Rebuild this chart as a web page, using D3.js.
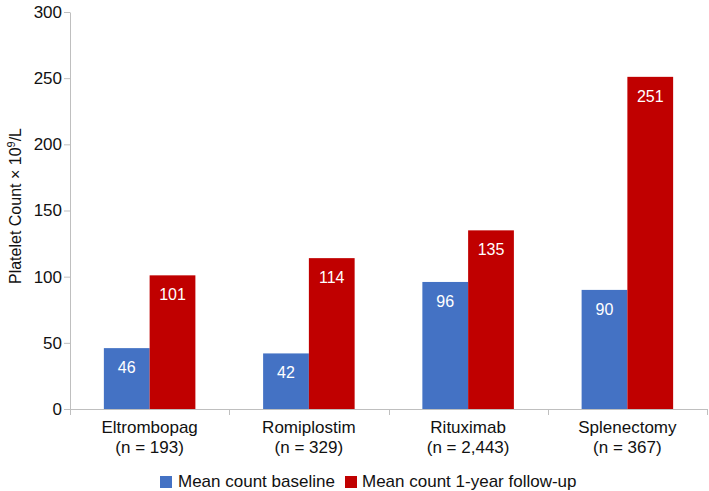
<!DOCTYPE html>
<html>
<head>
<meta charset="utf-8">
<script src="https://cdn.jsdelivr.net/npm/d3@7"></script>
<style>
  html, body { margin: 0; padding: 0; background: #fff; }
  svg { display: block; font-family: "Liberation Sans", Arial, Helvetica, sans-serif; }
</style>
</head>
<body>
<svg id="chart" width="709" height="491"></svg>
<script>
const categories = ["Eltrombopag", "Romiplostim", "Rituximab", "Splenectomy"];
const sampleSizes = ["(n = 193)", "(n = 329)", "(n = 2,443)", "(n = 367)"];
const seriesNames = ["Mean count baseline", "Mean count 1-year follow-up"];
const baseline = [46, 42, 96, 90];
const followUp = [101, 114, 135, 251];
const yTicks = [0, 50, 100, 150, 200, 250, 300];
const colors = ["#4472C4", "#C00000"];

const svg = d3.select("#chart");
const margin = { left: 70, right: 2, top: 12, bottom: 82 };
const W = 709, H = 491;
const plotBottom = H - margin.bottom; // 409

const x0 = d3.scaleBand().domain(categories).range([margin.left, W - margin.right]).paddingInner(0).paddingOuter(0);
const x1 = d3.scaleBand().domain([0, 1]).range([0, x0.bandwidth()]).paddingOuter(0.74).paddingInner(0);
const y = d3.scaleLinear().domain([0, 300]).range([plotBottom, margin.top]);

const axisColor = "#bfbfbf";

// Y axis
const yAxis = svg.append("g").attr("transform", `translate(${margin.left},0)`)
  .call(d3.axisLeft(y).tickValues(yTicks).tickSize(6).tickPadding(2).tickSizeOuter(0));
yAxis.select(".domain").attr("stroke", axisColor);
yAxis.selectAll(".tick line").attr("stroke", axisColor);
yAxis.selectAll(".tick text").attr("fill", "#111").style("font-size", "17px").attr("font-family", null);

// Bars
const data = categories.map((c, i) => ({ cat: c, vals: [baseline[i], followUp[i]] }));
const groups = svg.append("g").selectAll("g").data(data).join("g")
  .attr("transform", d => `translate(${x0(d.cat)},0)`);

groups.selectAll("rect").data(d => d.vals.map((v, k) => ({ v, k }))).join("rect")
  .attr("x", d => x1(d.k))
  .attr("y", d => y(d.v))
  .attr("width", x1.bandwidth())
  .attr("height", d => y(0) - y(d.v))
  .attr("fill", d => colors[d.k]);

groups.selectAll("text.val").data(d => d.vals.map((v, k) => ({ v, k }))).join("text")
  .attr("class", "val")
  .attr("x", d => x1(d.k) + x1.bandwidth() / 2)
  .attr("y", d => y(d.v) + 25)
  .attr("text-anchor", "middle")
  .attr("fill", "#fff")
  .style("font-size", "16px")
  .text(d => d.v);

// X axis
const xAxis = svg.append("g").attr("transform", `translate(0,${plotBottom})`);
xAxis.append("line").attr("x1", margin.left).attr("x2", W - margin.right)
  .attr("y1", 0.5).attr("y2", 0.5).attr("stroke", axisColor);
const boundaries = categories.map(c => x0(c)).concat([x0(categories[categories.length - 1]) + x0.bandwidth()]);
xAxis.selectAll("line.tk").data(boundaries).join("line").attr("class", "tk")
  .attr("x1", d => Math.round(d) + 0.5).attr("x2", d => Math.round(d) + 0.5)
  .attr("y1", 0).attr("y2", 6).attr("stroke", axisColor);

const xl = svg.append("g").selectAll("text").data(categories).join("text")
  .attr("x", d => x0(d) + x0.bandwidth() / 2)
  .attr("y", 433)
  .attr("text-anchor", "middle")
  .attr("fill", "#111")
  .style("font-size", "17px");
xl.append("tspan").attr("x", d => x0(d) + x0.bandwidth() / 2).text(d => d);
xl.append("tspan").attr("x", d => x0(d) + x0.bandwidth() / 2).attr("dy", 20).text((d, i) => sampleSizes[i]);

// Y label
svg.append("text")
  .attr("transform", "translate(21,206) rotate(-90)")
  .attr("text-anchor", "middle")
  .attr("fill", "#111")
  .style("font-size", "16px")
  .html('Platelet Count × 10<tspan dy="-6" font-size="11px">9</tspan><tspan dy="6">/L</tspan>');

// Legend
const legendItems = [{ x: 160, tx: 178 }, { x: 345, tx: 362 }];
const lg = svg.append("g").selectAll("g").data(seriesNames).join("g");
lg.append("rect").attr("x", (d, i) => legendItems[i].x).attr("y", 476).attr("width", 12).attr("height", 12)
  .attr("fill", (d, i) => colors[i]);
lg.append("text").attr("x", (d, i) => legendItems[i].tx).attr("y", 487)
  .attr("fill", "#111").style("font-size", "17px").text(d => d);
</script>
</body>
</html>
